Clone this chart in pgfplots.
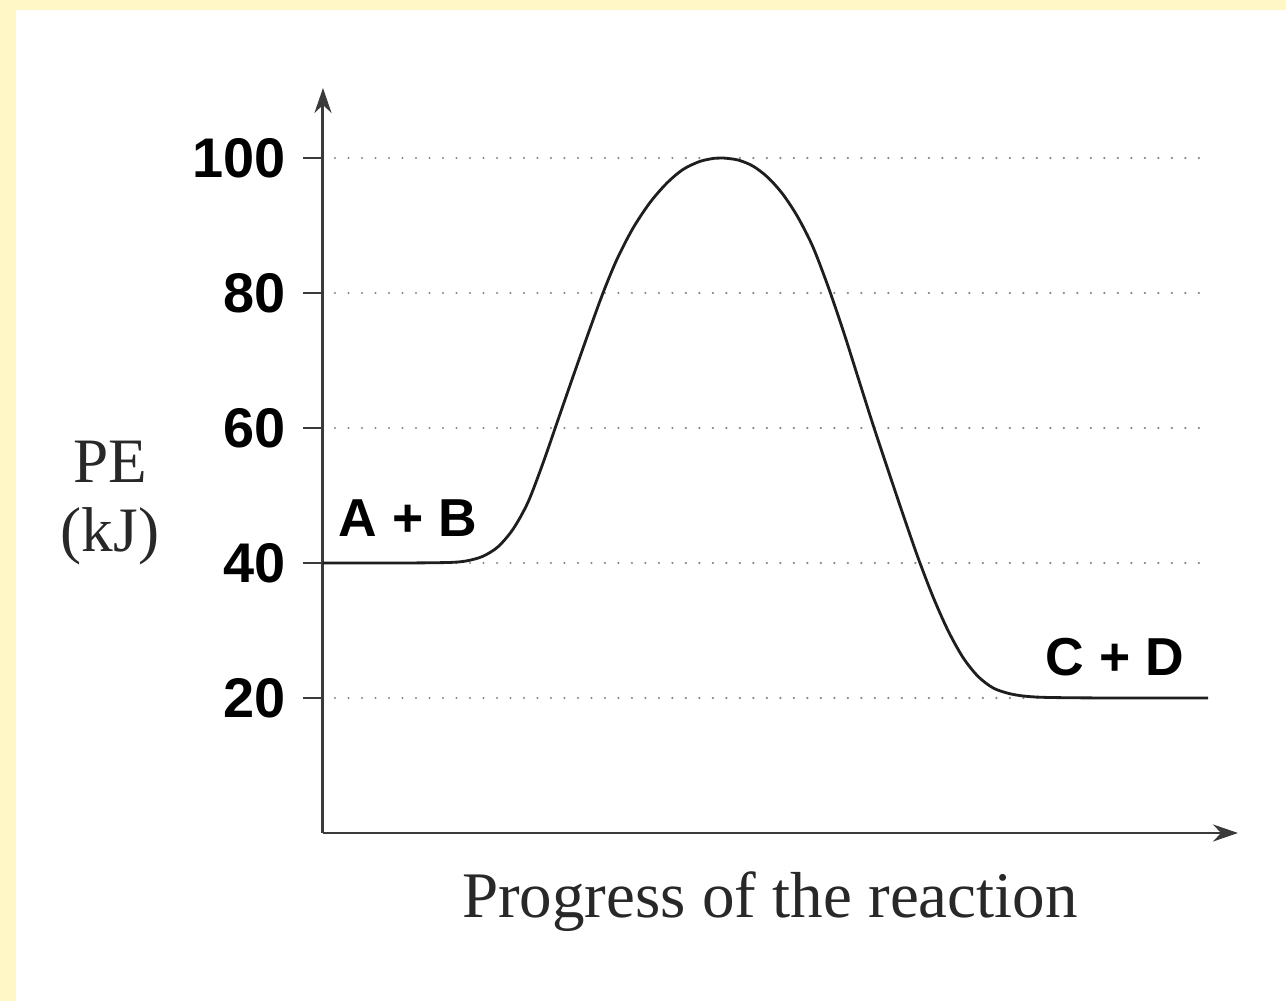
\documentclass[border=0pt]{standalone}
\usepackage{pgfplots}
\pgfplotsset{compat=1.18}
\usepackage{fontspec}
\setmainfont{Liberation Serif}
\setsansfont{Liberation Sans}
\usetikzlibrary{arrows.meta}
\definecolor{bgyellow}{RGB}{255,248,198}
\definecolor{axisgray}{RGB}{58,58,58}
\definecolor{gridgray}{RGB}{135,135,135}
\definecolor{curvecol}{RGB}{30,30,30}
\begin{document}
\begin{tikzpicture}
\fill[bgyellow] (-3.23,-1.68) rectangle (9.63,8.33);
\fill[white] (-3.07,-1.68) rectangle (9.63,8.23);
\begin{axis}[
 at={(0,0)}, anchor=south west,
 scale only axis, width=9.15cm, height=7.45cm,
 xmin=0, xmax=915, ymin=0, ymax=110.37,
 axis lines=left,
 axis line style={axisgray, line width=0.85pt},
 x axis line style={-{Stealth[length=0.25cm,width=0.17cm]}},
 y axis line style={-{Stealth[length=0.25cm,width=0.17cm]}},
 xtick=\empty,
 ytick={20,40,60,80,100},
 tick align=outside,
 major tick length=0.2cm,
 tick style={axisgray, line width=0.85pt},
 yticklabel style={font=\sffamily\bfseries\fontsize{15.9}{18}\selectfont, text=black, xshift=-0.05cm},
 /pgf/number format/assume math mode=true,
 xlabel={Progress of the reaction},
 every axis x label/.style={at={(axis description cs:0.4885,-0.114)}, anchor=base, font=\fontsize{18.5}{20}\selectfont, text={rgb,255:red,40;green,40;blue,40}},
 ylabel={PE\\(kJ)},
 every axis y label/.style={at={(axis description cs:-0.2328,0.443)}, anchor=center, align=center, font=\fontsize{18}{19.5}\selectfont, text={rgb,255:red,40;green,40;blue,40}},
 clip=false,
]
\addplot[gridgray, line width=0.7pt, line cap=round, dash pattern=on 0pt off 0.135cm, forget plot] coordinates {(12,100) (885,100)};
\addplot[gridgray, line width=0.7pt, line cap=round, dash pattern=on 0pt off 0.135cm, forget plot] coordinates {(12,80) (885,80)};
\addplot[gridgray, line width=0.7pt, line cap=round, dash pattern=on 0pt off 0.135cm, forget plot] coordinates {(12,60) (885,60)};
\addplot[gridgray, line width=0.7pt, line cap=round, dash pattern=on 0pt off 0.135cm, forget plot] coordinates {(12,40) (885,40)};
\addplot[gridgray, line width=0.7pt, line cap=round, dash pattern=on 0pt off 0.135cm, forget plot] coordinates {(12,20) (885,20)};
\addplot[curvecol, line width=0.8pt, smooth] table {
x y
0 40
60 40
100 40.02
130 40.1
145 40.35
160 41.0
175 42.4
190 45.0
205 49.0
220 54.8
235 61.2
250 67.6
265 73.9
280 80.0
294 85.0
310 89.6
327 93.4
344 96.3
360 98.3
377 99.5
392 99.97
400 100
415 99.7
430 98.8
445 97.1
460 94.6
475 91.2
490 86.8
505 81.0
520 74.5
535 67.5
550 60.5
565 53.8
580 47.2
595 40.8
610 35.0
625 30.0
640 26.0
655 23.2
670 21.5
685 20.7
700 20.3
720 20.1
760 20.02
820 20
885 20
};
\node[font=\sffamily\bfseries\fontsize{15.2}{18}\selectfont] at (axis cs:85,46.7) {A + B};
\node[font=\sffamily\bfseries\fontsize{15.2}{18}\selectfont] at (axis cs:792,26.0) {C + D};
\end{axis}
\end{tikzpicture}
\end{document}
